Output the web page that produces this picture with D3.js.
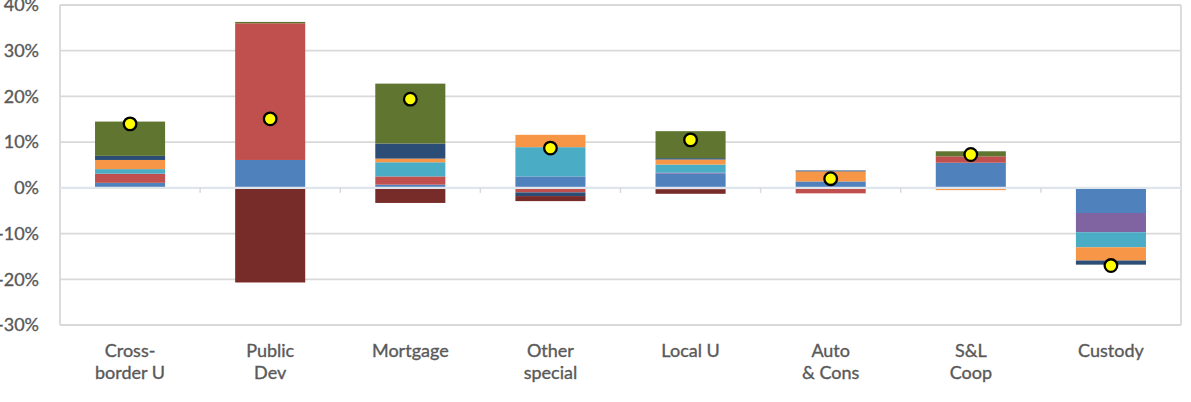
<!DOCTYPE html>
<html><head><meta charset="utf-8">
<script src="https://cdn.jsdelivr.net/npm/d3@7"></script>
<style>
html,body{margin:0;padding:0;background:#fff;}
svg{display:block;}
text{font-family:Lato,"Open Sans",sans-serif;fill:#595959;stroke:#595959;stroke-width:0.35px;}
</style></head>
<body><svg id="c" width="1191" height="402"></svg>
<script>
const categories = ["Cross-\nborder U", "Public\nDev", "Mortgage", "Other\nspecial", "Local U", "Auto\n& Cons", "S&L\nCoop", "Custody"];
const yTicks = [40, 30, 20, 10, 0, -10, -20, -30];
const seriesNames = ["s1", "s2", "s3", "s4", "s5", "s6", "s7", "s8"];
const s1 = [1.1, 6.1, 0.7, 2.5, 3.1, 1.4, 5.5, -5.5];
const s2 = [2.0, 29.9, 1.8, -1.0, -0.3, -1.2, 1.4, 0];
const s3 = [0, 0, 0, 0, 0.2, 0, 0, -4.2];
const s4 = [1.0, 0, 3.1, 6.4, 1.8, 0, 0, -3.3];
const s5 = [2.0, 0, 0.8, 2.7, 1.1, 2.2, -0.5, -2.9];
const s6 = [0.9, 0, 3.3, -0.8, 0.3, 0.2, 0, -0.9];
const s7 = [0, -20.7, -3.3, -1.1, -1.0, 0, 0, 0];
const s8 = [7.5, 0.3, 13.1, 0, 5.9, 0, 1.1, 0];
const net = [14.0, 15.1, 19.4, 8.7, 10.5, 2.0, 7.3, -17.0];
const colors = ["#4F81BD", "#C0504D", "#8064A2", "#4BACC6", "#F79646", "#2C4D75", "#772C2A", "#5F7530"];

const seriesVals = [s1, s2, s3, s4, s5, s6, s7, s8];
const table = categories.map((c, i) => {
  const row = {cat: c};
  seriesNames.forEach((n, k) => row[n] = seriesVals[k][i]);
  return row;
});

const svg = d3.select("#c");
const L = 60, R = 1181, T = 5, B = 325;
const x = d3.scaleBand().domain(categories).range([L, R]).paddingInner(0.5).paddingOuter(0.25);
const y = d3.scaleLinear().domain([-30, 40]).range([B, T]);

// gridlines
svg.append("g").selectAll("line").data(yTicks).join("line")
  .attr("x1", L).attr("x2", R)
  .attr("y1", d => y(d)).attr("y2", d => y(d))
  .attr("stroke", "#d9d9d9").attr("stroke-width", 1.8);
// frame verticals
svg.append("line").attr("x1", L).attr("x2", L).attr("y1", T).attr("y2", B).attr("stroke", "#d9d9d9").attr("stroke-width", 1.8);
svg.append("line").attr("x1", R).attr("x2", R).attr("y1", T).attr("y2", B).attr("stroke", "#d9d9d9").attr("stroke-width", 1.8);

// stacked bars
const stack = d3.stack().keys(seriesNames).offset(d3.stackOffsetDiverging);
const stacked = stack(table);
svg.append("g").selectAll("g").data(stacked).join("g")
  .attr("fill", (d, i) => colors[i])
  .selectAll("rect").data(d => d.filter(p => p[1] !== p[0])).join("rect")
  .attr("x", d => x(d.data.cat))
  .attr("width", x.bandwidth())
  .attr("y", d => y(Math.max(d[0], d[1])))
  .attr("height", d => Math.abs(y(d[0]) - y(d[1])));

// zero axis line on top
svg.append("line").attr("x1", L).attr("x2", R).attr("y1", y(0)).attr("y2", y(0))
  .attr("stroke", "#dfe5ec").attr("stroke-width", 2.4);
// category ticks
const bounds = categories.map((c, i) => L + i * x.step()).slice(1);
svg.append("g").selectAll("line").data(bounds).join("line")
  .attr("x1", d => d).attr("x2", d => d)
  .attr("y1", y(0)).attr("y2", y(0) + 5)
  .attr("stroke", "#d9d9d9").attr("stroke-width", 1.5);

// net dots
svg.append("g").selectAll("circle").data(net).join("circle")
  .attr("cx", (d, i) => x(categories[i]) + x.bandwidth() / 2)
  .attr("cy", d => y(d))
  .attr("r", 6.3)
  .attr("fill", "#FFFF00").attr("stroke", "#000").attr("stroke-width", 2.3);

// y labels
svg.append("g").selectAll("text").data(yTicks).join("text")
  .attr("x", 39).attr("y", d => y(d)).attr("dy", "0.35em")
  .attr("text-anchor", "end").attr("font-size", 18)
  .text(d => d + "%");

// x labels
const xl = svg.append("g").selectAll("text").data(categories).join("text")
  .attr("text-anchor", "middle").attr("font-size", 18)
  .attr("transform", d => `translate(${x(d) + x.bandwidth() / 2},357)`);
xl.selectAll("tspan").data(d => d.split("\n")).join("tspan")
  .attr("x", 0).attr("y", (d, i) => i * 22)
  .text(d => d);
</script>
</body></html>
